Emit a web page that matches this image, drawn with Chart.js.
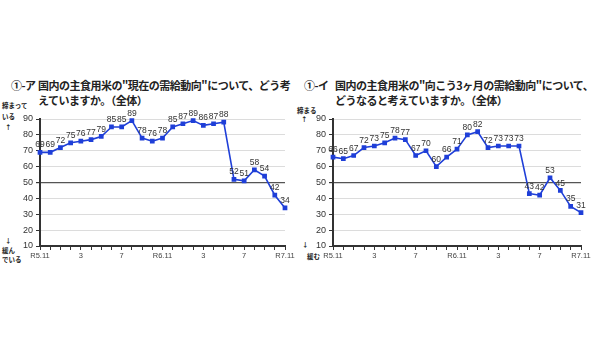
<!DOCTYPE html>
<html lang="ja">
<head>
<meta charset="utf-8">
<script src="https://cdn.jsdelivr.net/npm/chart.js@4/dist/chart.umd.min.js"></script>
<style>
  html, body { margin: 0; padding: 0; background: #fff; }
  body { width: 600px; height: 338px; position: relative; overflow: hidden;
         font-family: "Noto Sans CJK JP", "Noto Sans", sans-serif; color: #222; }
  .title { position: absolute; font-size: 11px; font-weight: bold; line-height: 15px;
           white-space: nowrap; letter-spacing: -0.5px; }
  .title .no { position: absolute; left: 0; top: 0; }
  .title .txt { position: absolute; top: 0; }
  .side { position: absolute; font-size: 6.5px; font-weight: bold; white-space: nowrap; color: #222; }
  .side div { position: absolute; left: 0; }
  .box { position: absolute; top: 100px; width: 300px; height: 170px; }
</style>
</head>
<body>
<div class="title" style="left:11px; top:78px; width:290px;">
  <span class="no">①-ア</span>
  <span class="txt" style="left:27px;">国内の主食用米の"現在の需給動向"について、どう考<br>えていますか。（全体）</span>
</div>
<div class="title" style="left:304px; top:78px; width:296px;">
  <span class="no">①-イ</span>
  <span class="txt" style="left:31px;">国内の主食用米の"向こう3ヶ月の需給動向"について、<br>どうなると考えていますか。（全体）</span>
</div>

<div class="side" style="left:2px; top:0;">
  <div style="top:100px;">締まって</div>
  <div style="top:111px;">いる</div>
  <div style="top:122px; left:3px;">↑</div>
  <div style="top:235px; left:3px;">↓</div>
  <div style="top:245px;">緩ん</div>
  <div style="top:254px;">でいる</div>
</div>
<div class="side" style="left:297px; top:0;">
  <div style="top:105px;">締まる</div>
  <div style="top:114px; left:4px;">↑</div>
  <div style="top:239px; left:5px;">↓</div>
  <div style="top:251px; left:10px;">緩む</div>
</div>

<div class="box" style="left:0;"><canvas id="c1"></canvas></div>
<div class="box" style="left:300px;"><canvas id="c2"></canvas></div>

<script>
// Survey months, R5.11 through R7.11
const months = ['R5.11','R5.12','R6.1','R6.2','R6.3','R6.4','R6.5','R6.6','R6.7','R6.8','R6.9','R6.10',
                'R6.11','R6.12','R7.1','R7.2','R7.3','R7.4','R7.5','R7.6','R7.7','R7.8','R7.9','R7.10','R7.11'];
// Labels shown under the x axis
const xTickLabels = ['R5.11','','','','3','','','','7','','','',
                     'R6.11','','','','3','','','','7','','','','R7.11'];
// Y axis ticks
const yTicks = [10, 20, 30, 40, 50, 60, 70, 80, 90];

// ①-ア current supply-demand index
const currentIndex = [69, 69, 72, 75, 76, 77, 79, 85, 85, 89, 78, 76, 78, 85, 87, 89, 86, 87, 88, 52, 51, 58, 54, 42, 34];
// ①-イ three-month outlook index
const outlookIndex = [66, 65, 67, 72, 73, 75, 78, 77, 67, 70, 60, 66, 71, 80, 82, 72, 73, 73, 73, 43, 42, 53, 45, 35, 31];

const lineBlue = '#1f3fd8';
const tickFont = { family: "'Liberation Sans', Arial, sans-serif", size: 9 };

// Writes each point's value just above its marker
const valueLabels = {
  id: 'valueLabels',
  afterDatasetsDraw(chart) {
    const ctx = chart.ctx;
    ctx.save();
    ctx.font = "8.5px 'Liberation Sans', Arial, sans-serif";
    ctx.fillStyle = '#333';
    ctx.textAlign = 'center';
    ctx.textBaseline = 'bottom';
    chart.data.datasets.forEach((ds, di) => {
      chart.getDatasetMeta(di).data.forEach((pt, i) => {
        ctx.fillText(String(ds.data[i]), pt.x, pt.y - 3);
      });
    });
    ctx.restore();
  }
};

function makeChart(id, values, yAxisWidth, rightPad) {
  return new Chart(document.getElementById(id), {
    type: 'line',
    data: {
      labels: months,
      datasets: [{
        data: values,
        borderColor: lineBlue,
        backgroundColor: lineBlue,
        borderWidth: 1.6,
        pointStyle: 'rect',
        pointRadius: 2.2,
        pointHoverRadius: 2.2,
        tension: 0,
        clip: false
      }]
    },
    options: {
      responsive: true,
      maintainAspectRatio: false,
      animation: false,
      events: [],
      layout: { padding: { top: 19, right: rightPad, left: 0, bottom: 0 } },
      plugins: { legend: { display: false }, tooltip: { enabled: false } },
      scales: {
        x: {
          offset: false,
          border: { color: '#333', width: 2 },
          grid: { drawOnChartArea: false, drawTicks: true, tickLength: 4, tickColor: '#333' },
          ticks: {
            autoSkip: false, maxRotation: 0, padding: 1,
            font: { family: "'Liberation Sans', Arial, sans-serif", size: 7.5 },
            color: '#444',
            callback: (v, i) => xTickLabels[i]
          },
          afterFit: s => { s.height = 24; }
        },
        y: {
          min: yTicks[0],
          max: yTicks[yTicks.length - 1],
          border: { color: '#333', width: 2 },
          grid: {
            color: c => (c.tick && c.tick.value === 50) ? '#555' : '#dcdcdc',
            lineWidth: c => (c.tick && c.tick.value === 50) ? 1.2 : 1,
            tickLength: 4,
            tickColor: '#333'
          },
          afterBuildTicks: s => { s.ticks = yTicks.map(v => ({ value: v })); },
          ticks: { font: tickFont, color: '#333', padding: 3 },
          afterFit: s => { s.width = yAxisWidth; }
        }
      }
    },
    plugins: [valueLabels]
  });
}

makeChart('c1', currentIndex, 40, 15);
makeChart('c2', outlookIndex, 33, 19);
</script>
</body>
</html>
